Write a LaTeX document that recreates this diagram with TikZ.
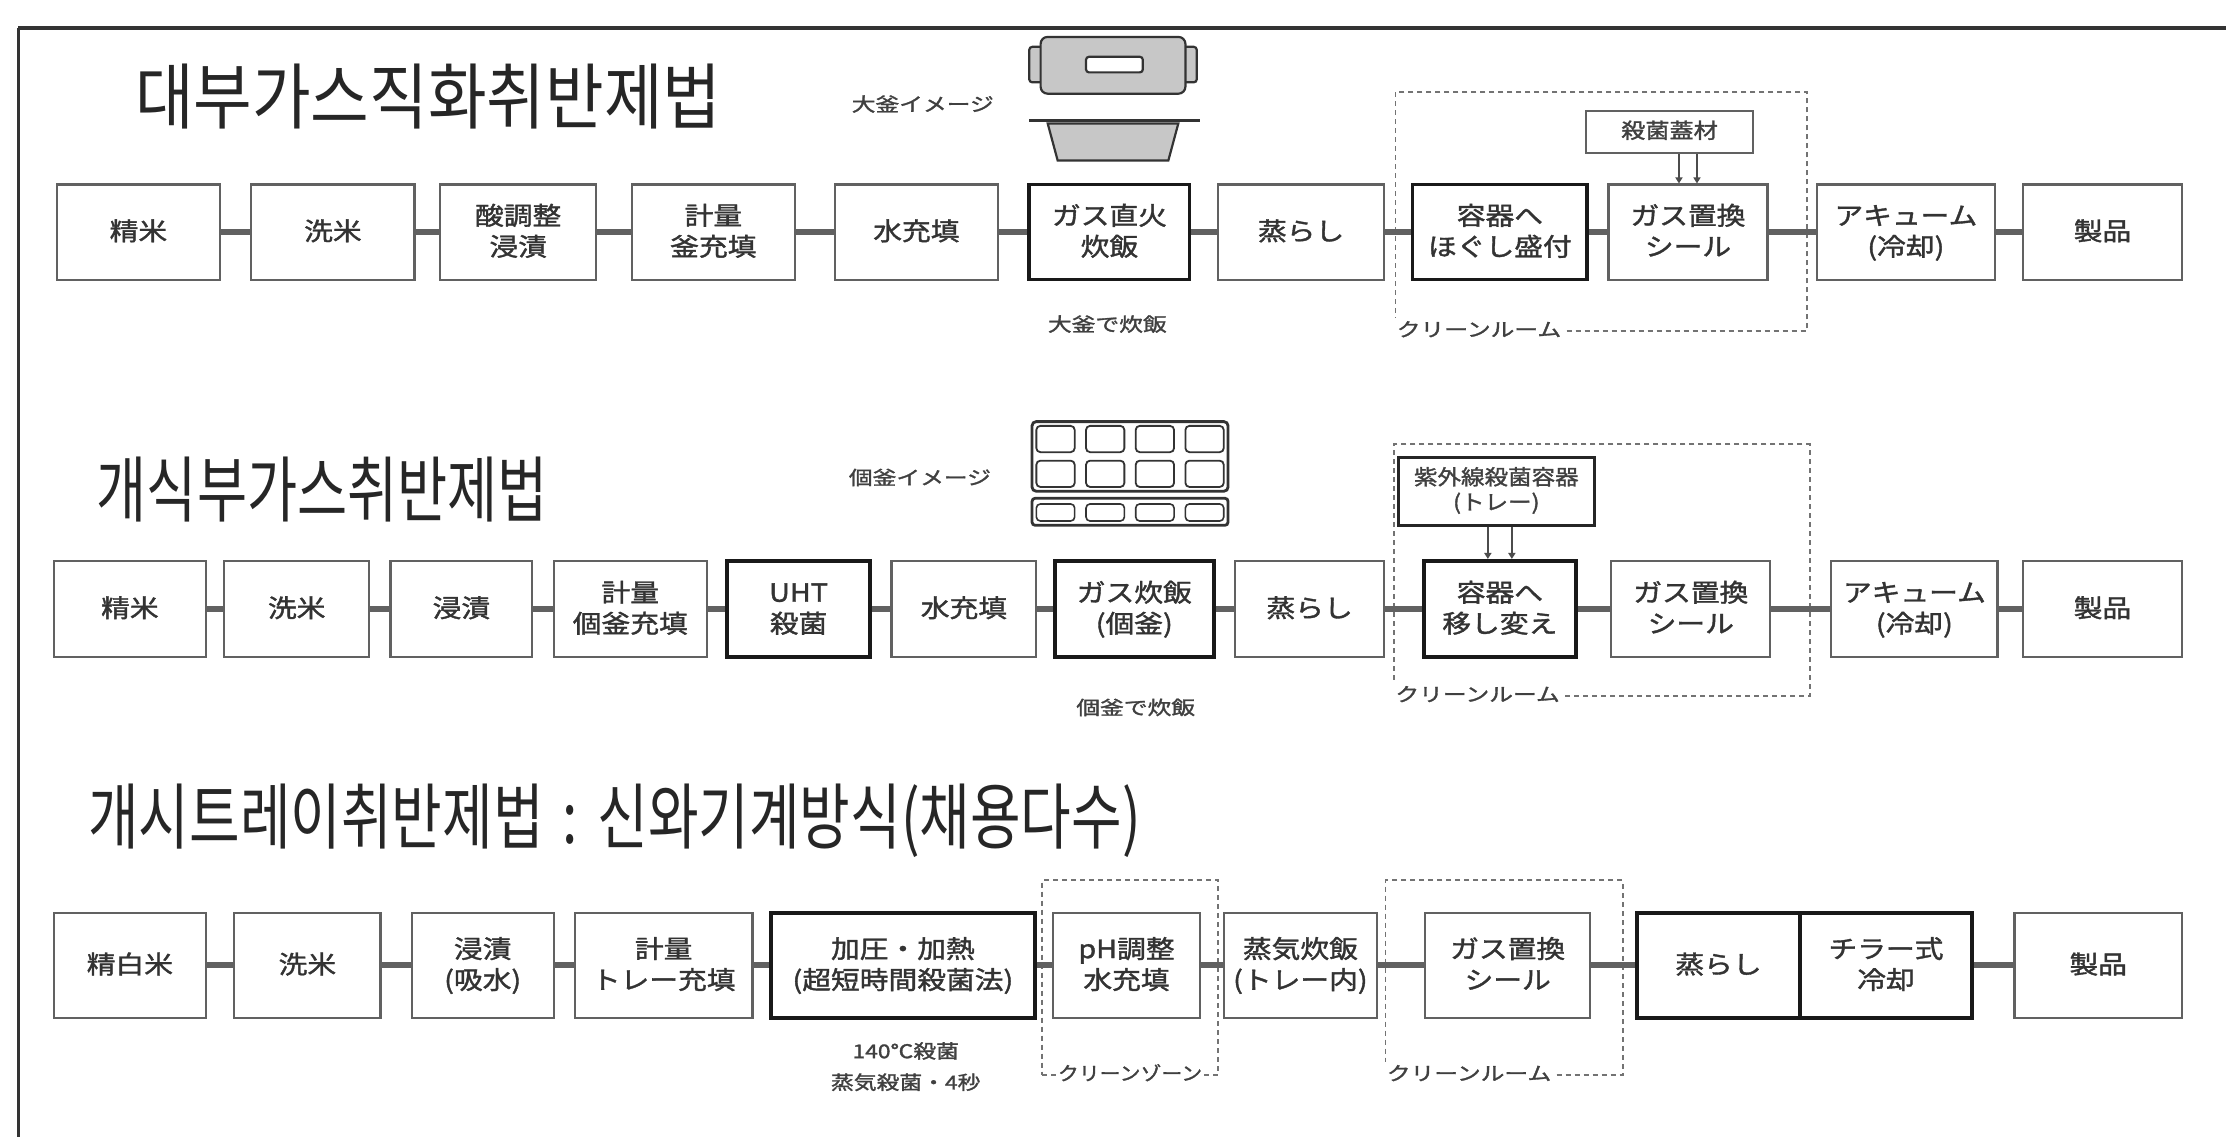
\documentclass[tikz,border=0pt]{standalone}
\usepackage{fontspec}
\usetikzlibrary{fit,arrows.meta}
\newfontfamily\krfont{Noto Sans CJK KR}
\newfontfamily\jpfont[FakeBold=1.4]{Noto Sans CJK JP}

% wide-set, centred text block
\newcommand\wide[2][1.15]{\scalebox{#1}[1]{\begin{tabular}{@{}c@{}}#2\end{tabular}}}
% process box spanning (x1,y1)-(x2,y2), with its caption
\newcommand\mkbox[7]{%
  \node[#1,fit={(#3,#5) (#4,#6)}] (#2) {};
  \node[boxtext] (#2t) at ([yshift=-2pt]#2.center) {\wide{#7}};}

\tikzset{
  proc/.style={draw=black!62, line width=2.2pt, fill=white, inner sep=0pt},
  procbold/.style={proc, draw=black!90, line width=3.6pt},
  boxtext/.style={font=\jpfont\fontsize{25}{31}\selectfont, text=black!80, inner sep=0pt},
  link/.style={draw=black!62, line width=6pt},
  zone/.style={draw=black!55, line width=1.8pt, dash pattern=on 5pt off 4pt, inner sep=0pt},
  note/.style={font=\jpfont\fontsize{19}{24}\selectfont, text=black!75, inner sep=1pt},
  zonelabel/.style={note, fill=white, anchor=west, inner sep=2pt},
  title/.style={font=\krfont\fontsize{72}{72}\selectfont, text=black!85, inner sep=0pt, anchor=west},
  feed/.style={draw=black!70, line width=1.6pt, -{Triangle[length=6pt,width=7pt]}},
  art/.style={draw=black!80, line width=2.2pt}
}

\begin{document}
\begin{tikzpicture}[x=1.4196pt,y=-1.4196pt]
\path[use as bounding box] (0,0) rectangle (1568,801);
\fill[white] (0,0) rectangle (1568,801);

% frame
\draw[line width=4pt, black!80] (13,20) -- (1568,20);
\draw[line width=2.5pt, black!80] (13,20) -- (13,801);

% ---------------- row 1 ----------------
\node[title] (t1) at (95,68) {\scalebox{0.885}[1]{대부가스직화취반제법}};

% pot and lid
\draw[art, fill=black!22, rounded corners=3pt] (725,33) rectangle (737,58);
\draw[art, fill=black!22, rounded corners=3pt] (831,33) rectangle (843,58);
\draw[art, fill=black!22, rounded corners=7pt] (733,26) rectangle (835,66);
\draw[art, fill=white, rounded corners=3pt] (765,40) rectangle (805,51);
\draw[art, line width=2.8pt] (725,85) -- (845,85);
\draw[art, fill=black!22] (738,87) -- (830,87) -- (823,113) -- (745,113) -- cycle;
\node[note] (img1) at (650,75) {\wide[1.25]{大釜イメージ}};

\node[zone, fit={(983,65) (1273,233)}] (z1) {};
\node[zonelabel] (z1l) at (z1.south west) {\wide[1.25]{クリーンルーム}};

\mkbox{proc}{a1}{40}{155}{130}{197}{精米}
\mkbox{proc}{a2}{177}{292}{130}{197}{洗米}
\mkbox{proc}{a3}{310}{420}{130}{197}{酸調整\\浸漬}
\mkbox{proc}{a4}{445}{560}{130}{197}{計量\\釜充填}
\mkbox{proc}{a5}{588}{703}{130}{197}{水充填}
\mkbox{procbold}{a6}{725}{838}{130}{197}{ガス直火\\炊飯}
\mkbox{proc}{a7}{858}{975}{130}{197}{蒸らし}
\mkbox{procbold}{a8}{995}{1118}{130}{197}{容器へ\\ほぐし盛付}
\mkbox{proc}{a9}{1133}{1245}{130}{197}{ガス置換\\シール}
\mkbox{proc}{a10}{1280}{1405}{130}{197}{アキューム\\(冷却)}
\mkbox{proc}{a11}{1425}{1537}{130}{197}{製品}
\node[proc, fit={(1117,78) (1235,108)}] (a12) {};
\node[note, font=\jpfont\fontsize{21}{26}\selectfont] (a12t) at ([yshift=-1pt]a12.center) {\wide{殺菌蓋材}};

\node[note] (n1) at (780,230) {\wide[1.25]{大釜で炊飯}};

\foreach \p/\q in {a1/a2,a2/a3,a3/a4,a4/a5,a5/a6,a6/a7,a7/a8,a8/a9,a9/a10,a10/a11}
  \draw[link] (\p.east) -- (\q.west);
\draw[feed] ([xshift=-9pt]a9.north |- a12.south) -- ([xshift=-9pt]a9.north);
\draw[feed] ([xshift=9pt]a9.north |- a12.south) -- ([xshift=9pt]a9.north);

% ---------------- row 2 ----------------
\node[title] (t2) at (68,345) {\scalebox{0.757}[1]{개식부가스취반제법}};

% tray of individual pots
\draw[art, line width=2.8pt, rounded corners=4pt] (727,297) rectangle (865,346);
\foreach \cx in {727,762,797,832}
  \foreach \cy in {297,321.5}
    \draw[art, line width=1.8pt, rounded corners=4pt] (\cx+3,\cy+3) rectangle (\cx+30,\cy+21.5);
\draw[art, line width=2.8pt, rounded corners=3pt] (727,351) rectangle (865,370);
\foreach \cx in {727,762,797,832}
  \draw[art, line width=1.6pt, rounded corners=4pt] (\cx+3,355) rectangle (\cx+30,367);
\node[note] (img2) at (648,338) {\wide[1.25]{個釜イメージ}};

\node[zone, fit={(982,313) (1275,490)}] (z2) {};
\node[zonelabel] (z2l) at (z2.south west) {\wide[1.25]{クリーンルーム}};

\mkbox{proc}{b1}{38}{145}{395}{463}{精米}
\mkbox{proc}{b2}{158}{260}{395}{463}{洗米}
\mkbox{proc}{b3}{275}{375}{395}{463}{浸漬}
\mkbox{proc}{b4}{390}{498}{395}{463}{計量\\個釜充填}
\mkbox{procbold}{b5}{512}{613}{395}{463}{UHT\\殺菌}
\mkbox{proc}{b6}{628}{730}{395}{463}{水充填}
\mkbox{procbold}{b7}{743}{855}{395}{463}{ガス炊飯\\(個釜)}
\mkbox{proc}{b8}{870}{975}{395}{463}{蒸らし}
\mkbox{procbold}{b9}{1003}{1110}{395}{463}{容器へ\\移し変え}
\mkbox{proc}{b10}{1135}{1247}{395}{463}{ガス置換\\シール}
\mkbox{proc}{b11}{1290}{1407}{395}{463}{アキューム\\(冷却)}
\mkbox{proc}{b12}{1425}{1537}{395}{463}{製品}
\node[proc, draw=black!85, line width=2.8pt, fit={(985,322) (1123,370)}] (b13) {};
\node[note, font=\jpfont\fontsize{21}{25}\selectfont] (b13t) at ([yshift=-1pt]b13.center) {\wide[1.12]{紫外線殺菌容器\\(トレー)}};

\node[note] (n2) at (800,500) {\wide[1.25]{個釜で炊飯}};

\foreach \p/\q in {b1/b2,b2/b3,b3/b4,b4/b5,b5/b6,b6/b7,b7/b8,b8/b9,b9/b10,b10/b11,b11/b12}
  \draw[link] (\p.east) -- (\q.west);
\draw[feed] ([xshift=-12pt]b9.north |- b13.south) -- ([xshift=-12pt]b9.north);
\draw[feed] ([xshift=12pt]b9.north |- b13.south) -- ([xshift=12pt]b9.north);

% ---------------- row 3 ----------------
\node[title] (t3) at (62,578) {\scalebox{0.764}[1]{개시트레이취반제법\hspace{0.35em}:\hspace{0.35em}신와기계방식(채용다수)}};

\node[zone, fit={(734,620) (858,757)}] (z3) {};
\node[zonelabel, anchor=center, inner sep=1pt] (z3l) at (z3.south) {\wide[1.1]{クリーンゾーン}};
\node[zone, fit={(976,620) (1143,757)}] (z4) {};
\node[zonelabel] (z4l) at (z4.south west) {\wide[1.25]{クリーンルーム}};

\mkbox{proc}{c1}{38}{145}{643}{717}{精白米}
\mkbox{proc}{c2}{165}{268}{643}{717}{洗米}
\mkbox{proc}{c3}{290}{390}{643}{717}{浸漬\\(吸水)}
\mkbox{proc}{c4}{405}{530}{643}{717}{計量\\トレー充填}
\mkbox{procbold}{c5}{543}{729}{643}{717}{加圧・加熱\\(超短時間殺菌法)}
\mkbox{proc}{c6}{742}{845}{643}{717}{pH調整\\水充填}
\mkbox{proc}{c7}{862}{970}{643}{717}{蒸気炊飯\\(トレー内)}
\mkbox{proc}{c8}{1004}{1120}{643}{717}{ガス置換\\シール}
\mkbox{procbold}{c9}{1153}{1268}{643}{717}{蒸らし}
\mkbox{procbold}{c10}{1268}{1389}{643}{717}{チラー式\\冷却}
\mkbox{proc}{c11}{1419}{1537}{643}{717}{製品}

\node[note] (n3a) at (638,742) {\wide[1.2]{140℃殺菌}};
\node[note] (n3b) at (638,764) {\wide[1.2]{蒸気殺菌・4秒}};

\foreach \p/\q in {c1/c2,c2/c3,c3/c4,c4/c5,c5/c6,c6/c7,c7/c8,c8/c9,c10/c11}
  \draw[link] (\p.east) -- (\q.west);
\end{tikzpicture}
\end{document}
